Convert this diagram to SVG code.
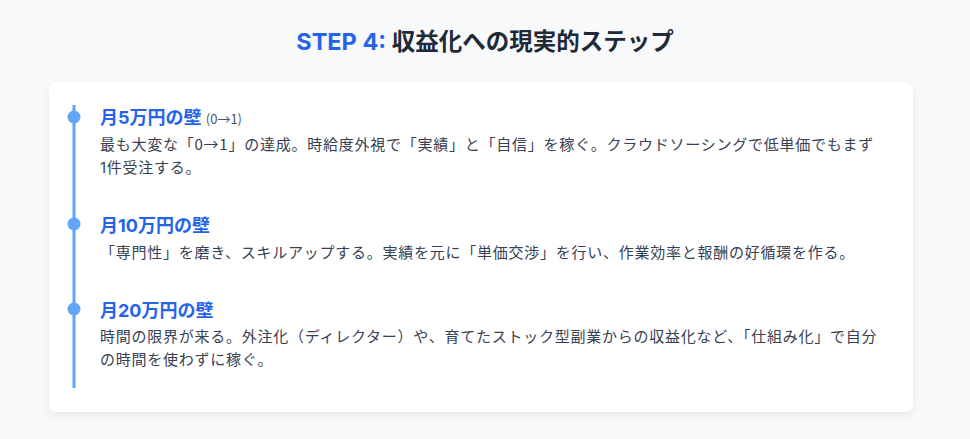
<svg xmlns="http://www.w3.org/2000/svg" width="970" height="439" viewBox="0 0 970 439">
<defs>
<style>
.t{font-family:"Inter","Noto Sans CJK JP",sans-serif;font-weight:700;font-size:23.5px;fill:#1f2937}
.h{font-family:"Inter","Noto Sans CJK JP",sans-serif;font-weight:700;font-size:18px;fill:#2563eb}
.s{font-family:"Noto Sans CJK JP",sans-serif;font-size:13px;fill:#4b5563;font-weight:400}
.b{font-family:"Inter","Noto Sans CJK JP",sans-serif;font-size:15px;fill:#374151;letter-spacing:0.75px}
.dot{fill:#60a5fa}
</style>
<filter id="sh" x="-5%" y="-10%" width="110%" height="125%">
<feDropShadow dx="0" dy="3" stdDeviation="5" flood-color="#000" flood-opacity="0.07"/>
</filter>
</defs>
<rect width="970" height="439" fill="#f7f9fb"/>
<text class="t" x="485" y="50" text-anchor="middle"><tspan fill="#2563eb">STEP 4:</tspan> 収益化への現実的ステップ</text>
<rect x="49" y="82" width="864" height="330" rx="8" fill="#ffffff" filter="url(#sh)"/>
<g id="connectors">
<line x1="74" y1="105" x2="74" y2="388" stroke="#60a5fa" stroke-width="3"/>
</g>
<g id="step1">
<circle class="dot" cx="74" cy="117" r="6.5"/>
<text class="h" x="100" y="124">月5万円の壁 <tspan class="s">(0→1)</tspan></text>
<text class="b" x="100" y="150">最も大変な「<tspan font-family="Noto Sans CJK JP">0→1</tspan>」の達成。時給度外視で「実績」と「自信」を稼ぐ。クラウドソーシングで低単価でもまず</text>
<text class="b" x="100" y="173">1件受注する。</text>
</g>
<g id="step2">
<circle class="dot" cx="74" cy="224" r="6.5"/>
<text class="h" x="100" y="232">月10万円の壁</text>
<text class="b" x="100" y="258">「専門性」を磨き、スキルアップする。実績を元に「単価交渉」を行い、作業効率と報酬の好循環を作る。</text>
</g>
<g id="step3">
<circle class="dot" cx="74" cy="309" r="6.5"/>
<text class="h" x="100" y="317">月20万円の壁</text>
<text class="b" x="100" y="342">時間の限界が来る。外注化（ディレクター）や、育てたストック型副業からの収益化など、「仕組み化」で自分</text>
<text class="b" x="100" y="365">の時間を使わずに稼ぐ。</text>
</g>
</svg>
